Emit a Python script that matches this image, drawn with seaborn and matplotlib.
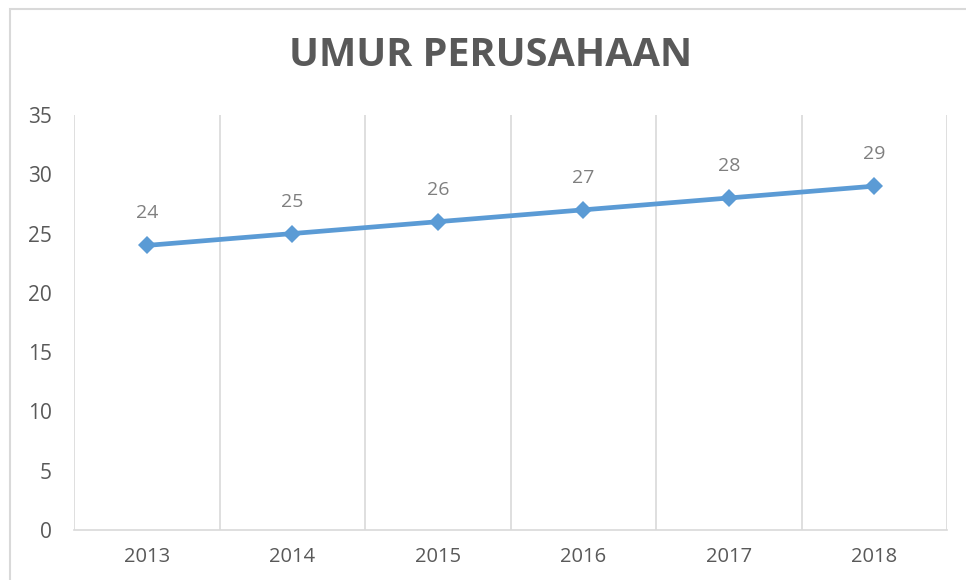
import matplotlib
matplotlib.use("Agg")
import matplotlib.pyplot as plt
import matplotlib.patches as mpatches
import seaborn as sns
import pandas as pd

years = [2013, 2014, 2015, 2016, 2017, 2018]
umur = [24, 25, 26, 27, 28, 29]
yticks = [0, 5, 10, 15, 20, 25, 30, 35]
title = "UMUR PERUSAHAAN"

sns.set_theme(style="white")
plt.rcParams['font.family'] = ['Open Sans', 'DejaVu Sans']

df = pd.DataFrame({"Tahun": years, "Umur": umur})

fig = plt.figure(figsize=(9.66, 5.8), dpi=100)
ax = fig.add_axes([74/966, 50/580, (947-74)/966, (530-115)/580])

# chart border
fig.patches.append(mpatches.Rectangle((10/966, -0.05), 1.0, 1 - 9/580 + 0.05,
                                      transform=fig.transFigure, fill=False,
                                      edgecolor="#D9D9D9", linewidth=1.5))

sns.lineplot(data=df, x="Tahun", y="Umur", ax=ax, color="#5B9BD5",
             linewidth=3.4, marker="D", markersize=9.5, markeredgewidth=0,
             zorder=3)

for x, y in zip(years, umur):
    ax.annotate(str(y), (x, y), xytext=(0, 23), textcoords="offset points",
                ha="center", va="center", fontsize=14, color="#7F7F7F")

ax.set_xlim(years[0] - 0.5, years[-1] + 0.5)
ax.set_ylim(yticks[0], yticks[-1])
ax.set_yticks(yticks)
ax.set_xticks(years)
ax.set_xticklabels([str(y) for y in years])
ax.set_xticks([y + 0.5 for y in [years[0] - 1] + years], minor=True)
ax.grid(False)
ax.grid(True, which="minor", axis="x", color="#D9D9D9", linewidth=1.2)
ax.tick_params(axis="both", which="both", length=0)
ax.tick_params(axis="y", labelsize=15, labelcolor="#595959", pad=16)
ax.tick_params(axis="x", labelsize=14.5, labelcolor="#595959", pad=12)
for s in ["top", "right", "left"]:
    ax.spines[s].set_visible(False)
ax.spines["bottom"].set_color("#D9D9D9")
ax.spines["bottom"].set_linewidth(1.2)
ax.set_xlabel("")
ax.set_ylabel("")

fig.text(491/966, 1 - 56/580, title, ha="center", va="center",
         fontsize=28.5, fontweight="bold", color="#595959")

fig.savefig("out.png", dpi=100)
